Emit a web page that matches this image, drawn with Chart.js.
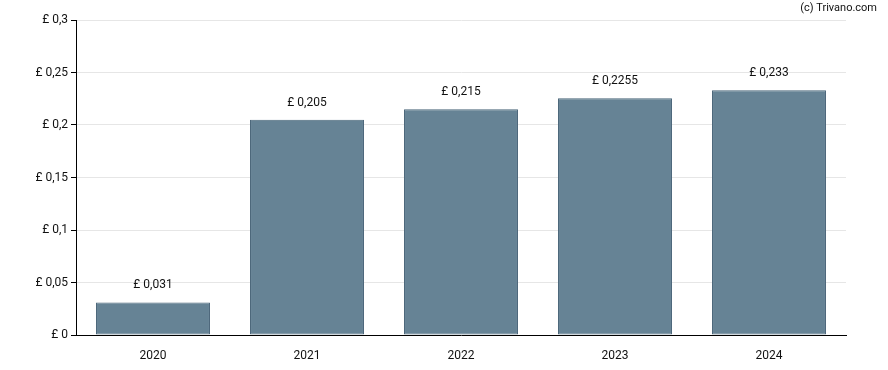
<!DOCTYPE html>
<html>
<head>
<meta charset="utf-8">
<script src="https://cdn.jsdelivr.net/npm/chart.js@4/dist/chart.umd.min.js"></script>
<style>
html,body{margin:0;padding:0;background:#fff;}
#wrap{width:888px;height:370px;position:relative;}
</style>
</head>
<body>
<div id="wrap"><canvas id="c" width="888" height="370"></canvas></div>
<script>
const categories = ['2020', '2021', '2022', '2023', '2024'];
const dividends = [0.031, 0.205, 0.215, 0.2255, 0.233];
const valueLabels = ['£ 0,031', '£ 0,205', '£ 0,215', '£ 0,2255', '£ 0,233'];
const yTicks = [0, 0.05, 0.1, 0.15, 0.2, 0.25, 0.3];

const FONT = 'Roboto, "Liberation Sans", sans-serif';

function fmt(v){
  return '£ ' + String(Math.round(v*10000)/10000).replace('.', ',');
}

const labelPlugin = {
  id: 'labels',
  afterDatasetsDraw(chart){
    const ctx = chart.ctx;
    const meta = chart.getDatasetMeta(0);
    ctx.save();
    ctx.font = '12px ' + FONT;
    ctx.fillStyle = '#111';
    ctx.textAlign = 'center';
    ctx.textBaseline = 'middle';
    meta.data.forEach((bar, i) => {
      ctx.fillText(valueLabels[i], bar.x, bar.y - 17);
    });
    ctx.restore();
  },
  afterDraw(chart){
    const ctx = chart.ctx;
    ctx.save();
    ctx.font = '11px ' + FONT;
    ctx.fillStyle = '#111';
    ctx.textAlign = 'right';
    ctx.textBaseline = 'middle';
    ctx.fillText('(c) Trivano.com', 877, 8);
    ctx.restore();
  }
};

new Chart(document.getElementById('c'), {
  type: 'bar',
  data: {
    labels: categories,
    datasets: [{
      data: dividends,
      backgroundColor: '#668395',
      borderColor: '#4a6579',
      borderWidth: 1,
      borderSkipped: false,
      barPercentage: 0.74,
      categoryPercentage: 1.0
    }]
  },
  options: {
    responsive: false,
    animation: false,
    layout: { padding: { left: 0, right: 42, top: 20, bottom: 0 } },
    plugins: { legend: { display: false }, tooltip: { enabled: false } },
    scales: {
      x: {
        grid: { display: false },
        border: { display: true, color: '#000', width: 1 },
        ticks: { color: '#111', font: { family: FONT, size: 12 }, padding: 6 },
        afterFit(scale){ scale.height = 35; }
      },
      y: {
        min: 0,
        max: 0.3,
        afterBuildTicks(scale){ scale.ticks = yTicks.map(v => ({ value: v })); },
        grid: { color: '#e6e6e6', tickColor: '#000', tickLength: 5 },
        border: { display: true, color: '#000', width: 1 },
        ticks: {
          color: '#111',
          font: { family: FONT, size: 12 },
          padding: 3,
          callback: (v) => fmt(v)
        },
        afterFit(scale){ scale.width = 76; }
      }
    }
  },
  plugins: [labelPlugin]
});
</script>
</body>
</html>
